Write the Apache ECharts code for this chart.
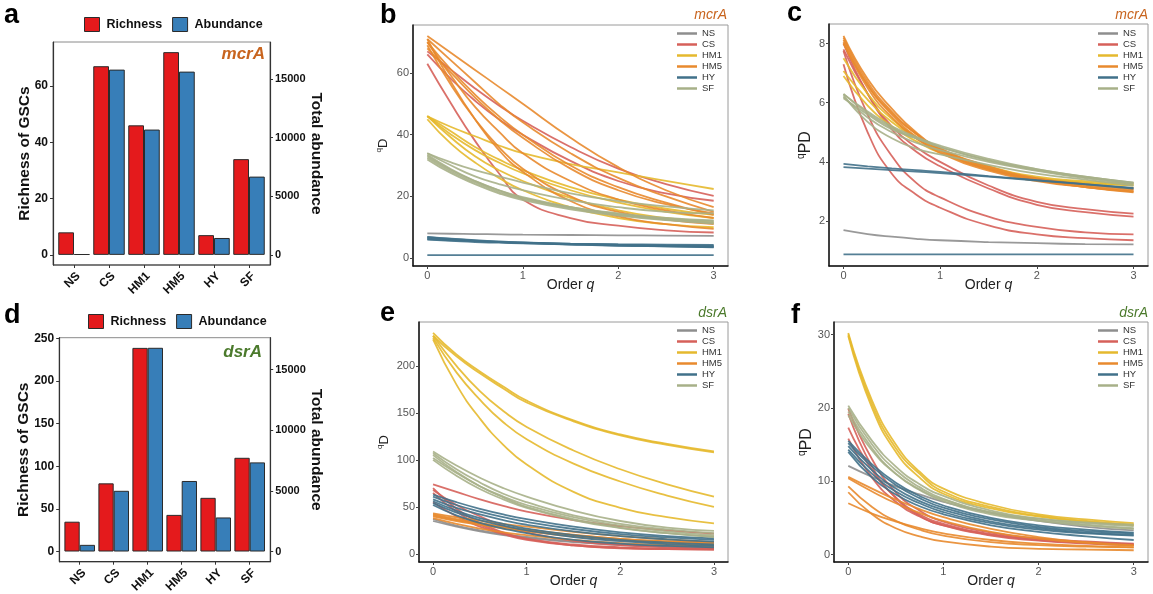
<!DOCTYPE html>
<html><head><meta charset="utf-8">
<script src="https://cdn.jsdelivr.net/npm/echarts@6/dist/echarts.min.js"></script>
<style>html,body{margin:0;padding:0;background:#fff}#c{width:1153px;height:594px}</style>
</head><body><div id="c"></div>
<script>
// ---------- data ----------
const sites = ['NS','CS','HM1','HM5','HY','SF'];
const richnessMcrA = [8, 67, 46, 72, 7, 34];
const abundanceMcrA = [60, 15790, 10680, 15620, 1440, 6670];
const richnessDsrA = [35, 80, 239, 43, 63, 110];
const abundanceDsrA = [550, 5010, 16810, 5820, 2810, 7355];
const orderQ = [0, 0.25, 0.5, 0.75, 1, 1.5, 2, 2.5, 3];

// mcrA, Hill number qD
const mcrA_qD_NS = [[8,7.9,7.8,7.7,7.6,7.5,7.4,7.3,7.2]];
const mcrA_qD_CS = [
 [67,61,55,49.5,44.5,36,29,24,20.2],
 [66,58,51,45,40,31.5,25,21,18.6],
 [63,50,38,27.5,19,13,10.5,9,8.3]];
const mcrA_qD_HM1 = [
 [46,42.5,39.5,36.5,34,30.5,27.8,25,22.4],
 [46,41,36,32,28.5,23,19,16,14],
 [46,40,35,31,27.5,22,18,15,13],
 [46,39,33,28.5,25,19.5,15.5,13,11.5],
 [45,37,31,26,22,16.5,13,11,10]];
const mcrA_qD_HM5 = [
 [72,66.5,61,55.5,50,39,29.5,22,16.5],
 [71,64,57,50,44,34,26,20,15],
 [70,61,53,46,40,30,23,18,14],
 [70,59,49,41,34,25,19,15.5,13],
 [69,56,45,36,29,20,15,12.5,11],
 [71,57,45,35,28,18.5,13.5,11,9.5],
 [68,60,52,45,39,29,22,17.5,14.5]];
const mcrA_qD_HY = [
 [6.8,6.2,5.7,5.3,5.0,4.5,4.1,3.8,3.5],
 [6.2,5.8,5.5,5.2,5.0,4.7,4.5,4.4,4.3],
 [6.5,6.0,5.6,5.2,4.9,4.4,4.0,3.8,3.6],
 [6.9,6.3,5.8,5.4,5.1,4.6,4.3,4.0,3.8],
 [6.0,5.6,5.2,5.0,4.8,4.5,4.3,4.1,4.0],
 [1,1,1,1,1,1,1,1,1]];
const mcrA_qD_SF = [
 [34,31,28.5,26.5,24.5,21,18.5,16.8,15.5],
 [33,28.5,25,22,19.5,16.5,14.3,12.8,12],
 [32,27.5,24,21,18.8,15.8,13.8,12.3,11.2],
 [33.5,28.8,25,22,19.8,16.5,14.5,13,12.2],
 [32.5,28,24.5,21.5,19.2,16.2,14,12.5,11.5],
 [34,30,26.5,24,22,18.8,16.5,15,14.5]];

// mcrA, phylogenetic diversity qPD
const mcrA_qPD_NS = [[1.69,1.56,1.47,1.40,1.35,1.29,1.25,1.22,1.21]];
const mcrA_qPD_CS = [
 [7.8,6.3,5.2,4.5,4.0,3.2,2.65,2.4,2.25],
 [8.0,6.3,5.1,4.35,3.85,3.1,2.55,2.3,2.15],
 [7.75,5.6,4.2,3.3,2.8,2.15,1.8,1.62,1.55],
 [7.3,5.0,3.6,2.9,2.45,1.85,1.55,1.42,1.35]];
const mcrA_qPD_HM1 = [
 [7.07,6.1,5.35,4.8,4.4,3.85,3.5,3.35,3.27],
 [7.5,6.3,5.45,4.85,4.4,3.8,3.45,3.3,3.22],
 [6.9,5.9,5.2,4.7,4.3,3.75,3.45,3.3,3.2]];
const mcrA_qPD_HM5 = [
 [8.26,6.8,5.8,5.0,4.45,3.8,3.4,3.15,2.97],
 [8.2,6.7,5.7,4.95,4.4,3.75,3.38,3.15,3.0],
 [8.12,6.6,5.6,4.85,4.35,3.75,3.4,3.2,3.05],
 [8.05,6.5,5.5,4.8,4.3,3.7,3.35,3.15,3.0],
 [8.0,6.6,5.65,4.95,4.45,3.85,3.45,3.25,3.1]];
const mcrA_qPD_HY = [
 [3.93,3.85,3.78,3.72,3.66,3.52,3.38,3.25,3.12],
 [3.82,3.77,3.72,3.67,3.62,3.5,3.37,3.24,3.1],
 [0.87,0.87,0.87,0.87,0.87,0.87,0.87,0.87,0.87]];
const mcrA_qPD_SF = [
 [6.29,5.7,5.2,4.85,4.55,4.1,3.75,3.5,3.3],
 [6.2,5.5,5.0,4.65,4.4,4.0,3.7,3.45,3.25],
 [6.25,5.35,4.8,4.45,4.25,3.9,3.6,3.4,3.2],
 [6.15,5.6,5.1,4.8,4.5,4.05,3.72,3.48,3.28],
 [6.3,5.65,5.15,4.8,4.5,4.05,3.75,3.5,3.3]];

// dsrA, Hill number qD
const dsrA_qD_NS = [
 [35,29,24,20,17,12.5,9.5,7.5,6.5],
 [37,30,25,21,18,13,10,8.5,7.5]];
const dsrA_qD_CS = [
 [74,66,58,51,45,36,29.5,25,21.5],
 [70,48,33,23,16,9,6,5,4.5],
 [68,52,40,30,23,14,9.5,7,6],
 [55,40,29,21,15,9,6.5,5,4.5],
 [65,45,31,22,16,10,7,5.5,5]];
const dsrA_qD_HM1 = [
 [235,212,194,178,163,142,127,117,109],
 [232,210,192,176,161,141,126,116,108],
 [232,200,173,152,135,110,90,74,61],
 [230,193,164,140,122,96,77,62,50],
 [228,180,144,116,95,66,49,39,32.5]];
const dsrA_qD_HM5 = [
 [43,39,35.5,32,29,23.5,19,15.5,12.5],
 [42,37,33,29,26,20.5,16,13,11],
 [40,35,31,27,24,18.5,14.5,11.5,9.5],
 [38,32,27,23,20,15,11.5,9.5,8],
 [41,36,32,28.5,25,20,16,13.5,12]];
const dsrA_qD_HY = [
 [63,55,48,42,37,29,23,19,16.5],
 [61,52,45,39,34,26.5,21,17.5,15],
 [58,49,42,36,31,24,19,15.5,13],
 [56,46,38,32,27,20,15,12,10],
 [54,44,36,30,25,18,13.5,10.5,8.5],
 [52,41,33,27,22,15,11,8.5,7]];
const dsrA_qD_SF = [
 [109,94,81,70,61,46,35,28,24.5],
 [107,90,76,64,55,41,32,26,22],
 [102,86,72,61,52,39,30,24,20],
 [105,87,72,60,50,37,28,22,18],
 [100,83,69,58,49,36,27.5,22,18.5]];

// dsrA, phylogenetic diversity qPD
const dsrA_qPD_NS = [[12.1,10.6,9.3,8.2,7.2,5.7,4.6,3.8,3.3]];
const dsrA_qPD_CS = [
 [19.9,13,8.5,6,4.5,3,2.2,1.8,1.5],
 [19.2,12,7.7,5.3,4,2.6,1.9,1.5,1.3],
 [17.3,11.5,7.8,5.5,4.2,2.8,2.1,1.7,1.4],
 [15.8,10.5,7.2,5.2,4.0,2.7,2.0,1.6,1.4]];
const dsrA_qPD_HM1 = [
 [30.2,21,15,11.3,9,6.8,5.5,4.8,4.3],
 [29.8,20,14,10.5,8.3,6.3,5.2,4.5,4.0],
 [30,20.5,14.5,11,8.6,6.5,5.3,4.6,4.1]];
const dsrA_qPD_HM5 = [
 [10.6,9.0,7.5,6.2,5.1,3.5,2.4,1.7,1.3],
 [10.4,8.6,7.0,5.7,4.6,3.1,2.2,1.6,1.2],
 [9.3,6.5,4.6,3.4,2.6,1.7,1.3,1.1,1.0],
 [8.5,5.5,3.6,2.5,1.8,1.1,0.8,0.7,0.6],
 [7.0,5.6,4.5,3.6,2.9,2.0,1.5,1.2,1.0]];
const dsrA_qPD_HY = [
 [15.2,12,9.5,7.7,6.4,4.8,3.8,3.2,2.9],
 [14.8,11.5,9,7.3,6.1,4.5,3.6,3.0,2.7],
 [14.3,11,8.6,7,5.8,4.3,3.4,2.9,2.6],
 [14.0,10.5,8.2,6.6,5.5,4.0,3.1,2.5,2.0],
 [15.5,12.3,9.8,8,6.7,5.0,4.0,3.4,3.0]];
const dsrA_qPD_SF = [
 [20.3,15.5,12,9.6,8,6,4.9,4.3,3.9],
 [20,15,11.5,9.2,7.6,5.7,4.7,4.1,3.6],
 [19.5,14.5,11,8.8,7.3,5.5,4.6,4.0,3.5],
 [19,14.2,11,8.9,7.5,5.8,4.9,4.4,4.1]];

const richTicksMcrA = [0,20,40,60];
const abunTicks = [0,5000,10000,15000];
const richTicksDsrA = [0,50,100,150,200,250];
const qTicks = [0,1,2,3];

// ---------- styles ----------
const FONT = '"Liberation Sans", Arial, Helvetica, sans-serif';
const siteColors = ['#8E8E8E','#D6605A','#E5B92E','#E88A2E','#41718A','#A7B088'];
const mcrColor = '#C8641E', dsrColor = '#4B7A2C';

const grids = [
  {left:56.5, top:42, width:210, height:223},      // a
  {left:413, top:25, width:315, height:241, show:true, borderColor:'#9a9a9a', borderWidth:1}, // b
  {left:829, top:24, width:319, height:242, show:true, borderColor:'#9a9a9a', borderWidth:1}, // c
  {left:62.7, top:337.7, width:204, height:224},   // d
  {left:419, top:322, width:309, height:240, show:true, borderColor:'#9a9a9a', borderWidth:1}, // e
  {left:834, top:322, width:314, height:240, show:true, borderColor:'#9a9a9a', borderWidth:1}  // f
].map(g => Object.assign({outerBoundsMode:'none', containLabel:false}, g));

function catAxis(gi){
  return {type:'category', gridIndex:gi, data:sites,
    axisLine:{show:false, onZero:false},
    axisTick:{show:true, alignWithLabel:true, length:3, lineStyle:{color:'#333', width:1}},
    axisLabel:{rotate:45, interval:0, margin:5, verticalAlign:'top', fontFamily:FONT, fontWeight:'bold', fontSize:12, color:'#111'},
    splitLine:{show:false}};
}
function barY(gi, min, max, ticks, pos, name, gap){
  return {type:'value', gridIndex:gi, position:pos, min:min, max:max, offset:3.5,
    axisLine:{show:true, onZero:false, lineStyle:{color:'#333', width:1.2}},
    axisTick:{show:true, customValues:ticks, length:3, lineStyle:{color:'#333'}},
    axisLabel:{customValues:ticks, margin:5, formatter:function(v){return String(v);},
      fontFamily:FONT, fontWeight:'bold', fontSize:pos==='left'?12:11, color:'#111'},
    splitLine:{show:false},
    name:name, nameLocation:'middle', nameGap:gap, nameRotate: pos==='left'?90:-90, nameMoveOverlap:false,
    nameTextStyle:{fontFamily:FONT, fontWeight:'bold', fontSize:15.5, color:'#111'}};
}
function qX(gi){
  return {type:'value', gridIndex:gi, min:-0.15, max:3.15,
    axisLine:{show:true, onZero:false, lineStyle:{color:'#111', width:1.5}},
    axisTick:{show:true, customValues:qTicks, length:3, lineStyle:{color:'#444'}},
    axisLabel:{customValues:qTicks, margin:4, fontFamily:FONT, fontSize:11, color:'#555'},
    splitLine:{show:false},
    name:'Order {i|q}', nameLocation:'middle', nameGap:12, nameMoveOverlap:false,
    nameTextStyle:{fontFamily:FONT, fontSize:14, color:'#222', verticalAlign:'top',
      rich:{i:{fontFamily:FONT, fontSize:14, fontStyle:'italic', color:'#222'}}}};
}
function qY(gi, min, max, ticks, main, mainSize, gap){
  return {type:'value', gridIndex:gi, min:min, max:max,
    axisLine:{show:true, onZero:false, lineStyle:{color:'#111', width:1.5}},
    axisTick:{show:true, customValues:ticks, length:3, lineStyle:{color:'#444'}},
    axisLabel:{customValues:ticks, margin:4, fontFamily:FONT, fontSize:11, color:'#555'},
    splitLine:{show:false},
    name:'{s|q}{m|'+main+'}', nameLocation:'middle', nameGap:gap, nameMoveOverlap:false,
    nameTextStyle:{fontFamily:FONT, color:'#222',
      rich:{s:{fontFamily:FONT, fontSize:Math.round(mainSize*0.62), color:'#222', verticalAlign:'top'},
            m:{fontFamily:FONT, fontSize:mainSize, color:'#222', lineHeight:mainSize+4}}}};
}

const xAxes = [catAxis(0), qX(1), qX(2), catAxis(3), qX(4), qX(5)];
const yAxes = [
  barY(0, -3.6, 75.6, richTicksMcrA, 'left', 'Richness of GSCs', 20),
  barY(0, -3.6*240, 75.6*240, abunTicks, 'right', 'Total abundance', 38),
  qY(1, -2.55, 75.55, [0,20,40,60], 'D', 13, 21),
  qY(2, 0.48, 8.66, [2,4,6,8], 'PD', 16, 13),
  barY(3, -11.95, 250.95, richTicksDsrA, 'left', 'Richness of GSCs', 27),
  barY(3, -11.95*70.3, 250.95*70.3, abunTicks, 'right', 'Total abundance', 38),
  qY(4, -8.6, 246.6, [0,50,100,150,200], 'D', 13, 26),
  qY(5, -1.0, 31.7, [0,10,20,30], 'PD', 16, 17)
];

const series = [];
function bars(xi, yl, yr, rich, abun){
  series.push({type:'bar', name:'Richness', xAxisIndex:xi, yAxisIndex:yl, data:rich,
    barGap:'0%', barCategoryGap:'10%', itemStyle:{color:'#E41A1C', borderColor:'#2b2b2b', borderWidth:1}, silent:true});
  series.push({type:'bar', name:'Abundance', xAxisIndex:xi, yAxisIndex:yr, data:abun,
    barGap:'0%', barCategoryGap:'10%', itemStyle:{color:'#377EB8', borderColor:'#2b2b2b', borderWidth:1}, silent:true});
}
bars(0, 0, 1, richnessMcrA, abundanceMcrA);
bars(3, 4, 5, richnessDsrA, abundanceDsrA);

function curves(xi, yi, groups){
  groups.forEach((grp, si) => {
    grp.forEach(vals => {
      series.push({type:'line', name:sites[si], xAxisIndex:xi, yAxisIndex:yi,
        data: orderQ.map((q,k)=>[q, vals[k]]),
        smooth:0.5, showSymbol:false, symbol:'none', silent:true,
        color:siteColors[si], itemStyle:{color:siteColors[si]},
        lineStyle:{color:siteColors[si], width:1.8, opacity:0.9}});
    });
  });
}
curves(1, 2, [mcrA_qD_NS, mcrA_qD_CS, mcrA_qD_HM1, mcrA_qD_HM5, mcrA_qD_HY, mcrA_qD_SF]);
curves(2, 3, [mcrA_qPD_NS, mcrA_qPD_CS, mcrA_qPD_HM1, mcrA_qPD_HM5, mcrA_qPD_HY, mcrA_qPD_SF]);
curves(4, 6, [dsrA_qD_NS, dsrA_qD_CS, dsrA_qD_HM1, dsrA_qD_HM5, dsrA_qD_HY, dsrA_qD_SF]);
curves(5, 7, [dsrA_qPD_NS, dsrA_qPD_CS, dsrA_qPD_HM1, dsrA_qPD_HM5, dsrA_qPD_HY, dsrA_qPD_SF]);

function barLegend(left, top){
  return {left:left, top:top, orient:'horizontal', icon:'rect', itemWidth:15, itemHeight:14, itemGap:10,
    data:['Richness','Abundance'], selectedMode:false,
    itemStyle:{borderColor:'#2b2b2b', borderWidth:1},
    textStyle:{fontFamily:FONT, fontWeight:'bold', fontSize:12.5, color:'#111', padding:[0,0,0,2]}};
}
function lineLegend(left, top){
  return {left:left, top:top, orient:'vertical', icon:'rect', itemWidth:20, itemHeight:2.5, itemGap:0,
    data:sites, selectedMode:false, padding:0,
    textStyle:{fontFamily:FONT, fontSize:9.5, color:'#333', lineHeight:11}};
}

function txt(x, y, s, font, fill, align){
  return {type:'text', x:x, y:y, silent:true,
    style:{text:s, font:font, fill:fill, textAlign:align, align:align, textVerticalAlign:'middle', verticalAlign:'middle'}};
}
const letterFont = 'bold 27px ' + FONT;
const graphics = [
  {type:'rect', shape:{x:53, y:42, width:217, height:223}, style:{fill:'none', stroke:'#8a8a8a', lineWidth:1}, silent:true, z:-1},
  {type:'line', shape:{x1:53, y1:265, x2:270, y2:265}, style:{stroke:'#333', lineWidth:1.2}, silent:true},
  {type:'rect', shape:{x:59.2, y:337.7, width:211, height:224}, style:{fill:'none', stroke:'#8a8a8a', lineWidth:1}, silent:true, z:-1},
  {type:'line', shape:{x1:59.2, y1:561.7, x2:270.2, y2:561.7}, style:{stroke:'#333', lineWidth:1.2}, silent:true},
  txt(4, 16, 'a', letterFont, '#000', 'left'),
  txt(380, 16, 'b', letterFont, '#000', 'left'),
  txt(787, 14, 'c', letterFont, '#000', 'left'),
  txt(4, 316, 'd', letterFont, '#000', 'left'),
  txt(380, 314, 'e', letterFont, '#000', 'left'),
  txt(791, 316, 'f', letterFont, '#000', 'left'),
  txt(265, 54, 'mcrA', 'italic bold 17px ' + FONT, mcrColor, 'right'),
  txt(727, 15, 'mcrA', 'italic 14px ' + FONT, mcrColor, 'right'),
  txt(1148, 15, 'mcrA', 'italic 14px ' + FONT, mcrColor, 'right'),
  txt(262, 352, 'dsrA', 'italic bold 17px ' + FONT, dsrColor, 'right'),
  txt(727, 313, 'dsrA', 'italic 14px ' + FONT, dsrColor, 'right'),
  txt(1148, 313, 'dsrA', 'italic 14px ' + FONT, dsrColor, 'right')
];

const chart = echarts.init(document.getElementById('c'), null, {renderer:'canvas'});
chart.setOption({
  animation:false,
  backgroundColor:'#fff',
  textStyle:{fontFamily:FONT},
  grid: grids,
  xAxis: xAxes,
  yAxis: yAxes,
  legend:[barLegend(79,12), barLegend(83,309), lineLegend(677,28), lineLegend(1098,28), lineLegend(677,325), lineLegend(1098,325)],
  graphic: graphics,
  series: series
});
</script></body></html>
